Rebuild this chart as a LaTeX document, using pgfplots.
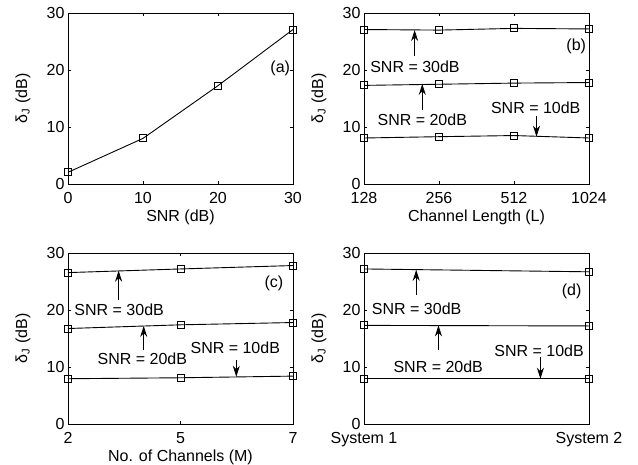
\documentclass[border=0pt]{standalone}
\usepackage{pgfplots}
\pgfplotsset{compat=1.18}
\usepackage{fontspec}
\setmainfont{Liberation Sans}
\usetikzlibrary{arrows.meta}
\newcommand{\fs}{\fontsize{16}{19}\selectfont}
\tikzset{arr/.style={line width=0.8pt, -{Stealth[length=11pt,width=7pt]}},
  ser/.style={black, line width=0.9pt, mark=square, mark size=3.5pt, mark options={solid, line width=0.9pt}}}
\pgfplotsset{
  panel/.style={
    scale only axis, width=225pt, height=171pt, anchor=south west,
    ymin=0, ymax=30, ytick={0,10,20,30},
    tick align=inside, tick pos=both, major tick length=3pt,
    axis line style={line width=0.8pt},
    every tick/.style={black, line width=0.6pt},
    /pgf/number format/assume math mode=true,
    tick label style={font=\fs},
    ylabel={δ\textsubscript{J} (dB)},
    every axis y label/.style={at={(axis description cs:-0.2,0.5)}, rotate=90, anchor=center, font=\fs},
    every axis x label/.style={at={(axis description cs:0.5,-0.222)}, anchor=base, font=\fs},
    xticklabel style={yshift=-4.5pt},
  },
}
\begin{document}
\begin{tikzpicture}
\useasboundingbox (0,0) rectangle (638pt,465pt);
% (a)
\begin{axis}[panel, at={(68pt,281pt)}, xmin=0, xmax=30, xtick={0,10,20,30}, xlabel={SNR (dB)}]
\addplot[ser] coordinates {(0,2.05) (10,8.0) (20,17.25) (30,27.1)};
\node[font=\fs] at (axis cs:28.3,20.35) {(a)};
\end{axis}
% (b)
\begin{axis}[panel, at={(364pt,281pt)}, xmin=0, xmax=3, xtick={0,1,2,3}, xticklabels={128,256,512,1024}, xlabel={Channel Length (L)}]
\addplot[ser] coordinates {(0,27.1) (1,27.0) (2,27.3) (3,27.2)};
\addplot[ser] coordinates {(0,17.3) (1,17.5) (2,17.7) (3,17.8)};
\addplot[ser] coordinates {(0,8.07) (1,8.3) (2,8.5) (3,8.07)};
\draw[arr] (axis cs:0.675,22.4) -- (axis cs:0.675,27.0);
\node[font=\fs] at (axis cs:0.68,20.6) {SNR = 30dB};
\draw[arr] (axis cs:0.777,12.9) -- (axis cs:0.777,17.55);
\node[font=\fs] at (axis cs:0.777,11.2) {SNR = 20dB};
\draw[arr] (axis cs:2.30,11.9) -- (axis cs:2.30,8.3);
\node[font=\fs] at (axis cs:2.29,13.45) {SNR = 10dB};
\node[font=\fs] at (axis cs:2.83,24.2) {(b)};
\end{axis}
% (c)
\begin{axis}[panel, at={(68pt,41pt)}, xmin=0, xmax=2, xtick={0,1,2}, xticklabels={2,5,7}, xlabel={No. of Channels (M)}]
\addplot[ser] coordinates {(0,26.56) (1,27.2) (2,27.8)};
\addplot[ser] coordinates {(0,16.75) (1,17.4) (2,17.8)};
\addplot[ser] coordinates {(0,7.94) (1,8.11) (2,8.4)};
\draw[arr] (axis cs:0.45,21.8) -- (axis cs:0.45,26.9);
\node[font=\fs] at (axis cs:0.455,19.97) {SNR = 30dB};
\draw[arr] (axis cs:0.673,12.96) -- (axis cs:0.673,17.2);
\node[font=\fs] at (axis cs:0.661,11.5) {SNR = 20dB};
\draw[arr] (axis cs:1.496,11.2) -- (axis cs:1.496,8.29);
\node[font=\fs] at (axis cs:1.487,13.4) {SNR = 10dB};
\node[font=\fs] at (axis cs:1.83,24.6) {(c)};
\end{axis}
% (d)
\begin{axis}[panel, at={(364pt,41pt)}, xmin=0, xmax=1, xtick={0,1}, xticklabels={System 1,System 2}]
\addplot[ser] coordinates {(0,27.2) (1,26.7)};
\addplot[ser] coordinates {(0,17.3) (1,17.2)};
\addplot[ser] coordinates {(0,7.94) (1,7.94)};
\draw[arr] (axis cs:0.232,22.7) -- (axis cs:0.232,27.05);
\node[font=\fs] at (axis cs:0.234,20.3) {SNR = 30dB};
\draw[arr] (axis cs:0.331,12.9) -- (axis cs:0.331,17.3);
\node[font=\fs] at (axis cs:0.330,10.1) {SNR = 20dB};
\draw[arr] (axis cs:0.784,11.8) -- (axis cs:0.784,7.94);
\node[font=\fs] at (axis cs:0.778,12.9) {SNR = 10dB};
\node[font=\fs] at (axis cs:0.923,23.2) {(d)};
\end{axis}
\end{tikzpicture}
\end{document}
